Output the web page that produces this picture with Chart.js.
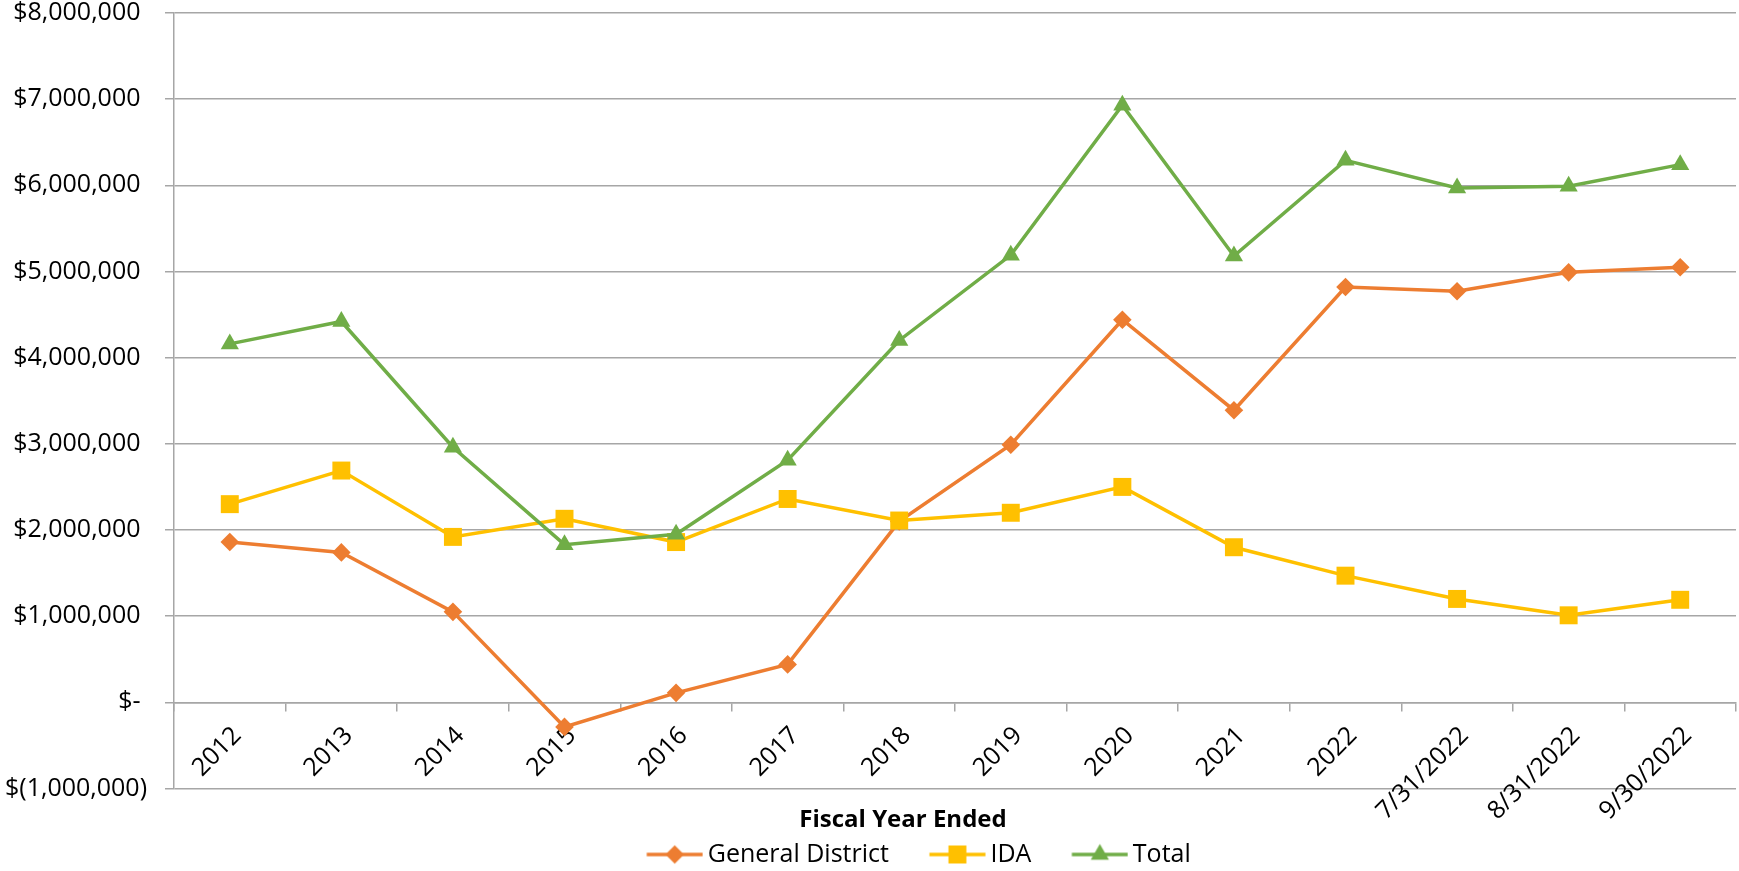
<!DOCTYPE html>
<html>
<head>
<meta charset="utf-8">
<script src="https://cdn.jsdelivr.net/npm/chart.js@4/dist/chart.umd.min.js"></script>
<style>
  html, body { margin: 0; padding: 0; background: #fff; }
  #wrap { width: 1739px; height: 871px; }
</style>
</head>
<body>
<div id="wrap"><canvas id="chart" width="1739" height="871"></canvas></div>
<script>
// Fiscal year / month-end labels
const categories = ['2012', '2013', '2014', '2015', '2016', '2017', '2018', '2019', '2020', '2021', '2022', '7/31/2022', '8/31/2022', '9/30/2022'];

// Fund balances (USD)
const generalDistrict = [1860000, 1740000, 1050000, -285000, 110000, 440000, 2100000, 2990000, 4440000, 3390000, 4820000, 4770000, 4990000, 5050000];
const ida             = [2300000, 2690000, 1920000, 2130000, 1860000, 2360000, 2110000, 2200000, 2500000, 1800000, 1470000, 1200000, 1010000, 1190000];
const total           = [4160000, 4420000, 2960000, 1830000, 1950000, 2810000, 4200000, 5190000, 6930000, 5180000, 6290000, 5970000, 5990000, 6240000];

// Value axis ticks, accounting style
const yTickValues = [-1000000, 0, 1000000, 2000000, 3000000, 4000000, 5000000, 6000000, 7000000, 8000000];
const yTickLabels = ['$(1,000,000)', '$- ', '$1,000,000 ', '$2,000,000 ', '$3,000,000 ', '$4,000,000 ', '$5,000,000 ', '$6,000,000 ', '$7,000,000 ', '$8,000,000 '];

const FONT = "'Open Sans', 'Liberation Sans', sans-serif";
const GRID = '#a6a6a6';
const Y_AXIS_WIDTH = 174;   // room for the accounting labels left of the plot
const BLOCK_INSET = 70;     // left edge used to centre the axis title and legend

const seriesStyles = [
  { label: 'General District', data: generalDistrict, color: '#ed7d31', pointStyle: 'rectRot', radius: 9.3, order: 3 },
  { label: 'IDA', data: ida, color: '#ffc000', pointStyle: 'rect', radius: 12.7, order: 2 },
  { label: 'Total', data: total, color: '#70ad47', pointStyle: 'triangle', radius: 10.5, order: 1 }
];

// Legend swatch: a line segment with the series marker in its middle
function legendSwatch(s) {
  const cv = document.createElement('canvas');
  cv.width = 96; cv.height = 26;
  const g = cv.getContext('2d');
  g.strokeStyle = s.color;
  g.lineWidth = 3.5;
  g.beginPath(); g.moveTo(39.5, 13); g.lineTo(95.5, 13); g.stroke();
  g.fillStyle = s.color;
  Chart.helpers.drawPoint(g, { pointStyle: s.pointStyle, radius: s.radius, rotation: 0, borderWidth: 0 }, 67.5, 13);
  return cv;
}

const datasets = seriesStyles.map(s => ({
  label: s.label,
  data: s.data,
  borderColor: s.color,
  backgroundColor: s.color,
  borderWidth: 3.5,
  tension: 0,
  pointStyle: s.pointStyle,
  pointRadius: s.radius,
  pointHoverRadius: s.radius,
  pointBackgroundColor: s.color,
  pointBorderColor: s.color,
  pointBorderWidth: 0,
  order: s.order,
  clip: false
}));

// Centre the bottom title and legend on the span from BLOCK_INSET to the plot's right edge
const bottomBlockInset = {
  id: 'bottomBlockInset',
  afterLayout(chart) {
    [chart.titleBlock, chart.legend].forEach(b => {
      if (b) { b.left = BLOCK_INSET; b.right = chart.chartArea.right; }
    });
  }
};

new Chart(document.getElementById('chart'), {
  type: 'line',
  data: { labels: categories, datasets },
  plugins: [bottomBlockInset],
  options: {
    responsive: false,
    animation: false,
    devicePixelRatio: 1,
    layout: { autoPadding: false, padding: { left: 0, right: 3, top: 13, bottom: -6 } },
    scales: {
      x: {
        type: 'category',
        position: { y: 0 },
        offset: true,
        afterFit: (scale) => { scale.paddingLeft = 0; scale.paddingRight = 0; },
        grid: { offset: true, drawOnChartArea: false, drawTicks: true, tickLength: 8, color: GRID, lineWidth: 1.5 },
        border: { display: true, color: GRID, width: 1.5 },
        ticks: {
          autoSkip: false, minRotation: 45, maxRotation: 45,
          padding: 12.5, labelOffset: 7.5,
          color: '#000', font: { family: FONT, size: 25, lineHeight: 1 }
        }
      },
      y: {
        min: -1000000,
        max: 8000000,
        afterFit: (scale) => { scale.width = Y_AXIS_WIDTH; scale.paddingTop = 0; scale.paddingBottom = 0; },
        afterBuildTicks: (scale) => { scale.ticks = yTickValues.map(v => ({ value: v })); },
        grid: { color: GRID, lineWidth: 1.5, tickLength: 9, drawTicks: true },
        border: { display: true, color: GRID, width: 1.5 },
        ticks: {
          padding: 18,
          color: '#000',
          font: { family: FONT, size: 25, lineHeight: 1 },
          callback: (v) => yTickLabels[yTickValues.indexOf(v)]
        }
      }
    },
    plugins: {
      tooltip: { enabled: false },
      title: {
        display: true,
        text: 'Fiscal Year Ended',
        position: 'bottom',
        weight: 500,
        color: '#000',
        font: { family: FONT, size: 24, weight: 'bold', lineHeight: 1 },
        padding: { top: 20, bottom: 0.5 }
      },
      legend: {
        display: true,
        position: 'bottom',
        labels: {
          usePointStyle: true,
          pointStyleWidth: 80,
          padding: 9,
          color: '#000',
          font: { family: FONT, size: 25 },
          generateLabels: () => seriesStyles.map((s, i) => ({
            text: s.label,
            datasetIndex: i,
            pointStyle: legendSwatch(s),
            fillStyle: s.color,
            strokeStyle: s.color,
            lineWidth: 0,
            hidden: false,
            fontColor: '#000'
          }))
        }
      }
    }
  }
});
</script>
</body>
</html>
